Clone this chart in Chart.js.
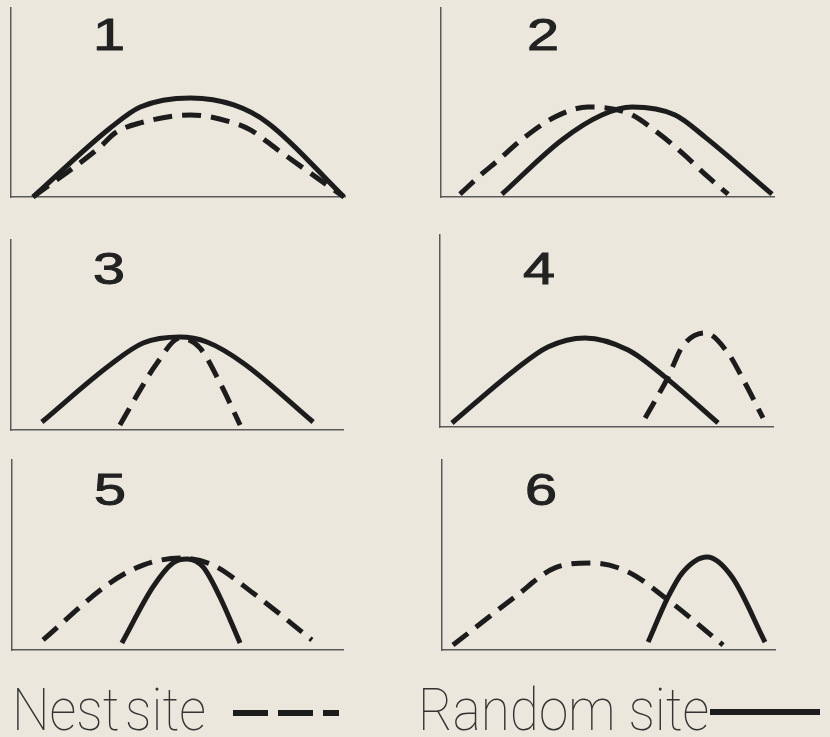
<!DOCTYPE html>
<html>
<head>
<meta charset="utf-8">
<script src="https://cdn.jsdelivr.net/npm/chart.js@4.4.1/dist/chart.umd.min.js"></script>
<style>
  body { margin: 0; background: #ebe7dd; }
  #wrap { position: relative; width: 830px; height: 737px; overflow: hidden; background: #ebe7dd; }
  .panel { position: absolute; }
  .num {
    position: absolute; width: 60px; text-align: center;
    font-family: "Liberation Sans", Arial, sans-serif; font-weight: normal;
    font-size: 45px; line-height: 45px; color: #222;
    -webkit-text-stroke: 1px #222;
    transform: scaleX(1.28);
  }
  .legend {
    position: absolute; font-family: Roboto, sans-serif; font-weight: 100;
    font-size: 59px; line-height: 59px; color: #333; white-space: nowrap;
    transform: scaleX(0.9); transform-origin: left top;
  }
  .sample { position: absolute; height: 6px; }
</style>
</head>
<body>
<div id="wrap"></div>
<script>
// x = % of the axis length, y = % of the axis height
const nest1X = [6.6, 26.7, 31.2, 38.7, 53.8, 66.7, 71.8, 79.9, 99.7];
const nest1Y = [0, 26.5, 33.9, 39.2, 43.4, 39.2, 35.4, 24.9, 0];
const random1X = [6.6, 29.7, 38.7, 53.8, 66.7, 76.9, 99.7];
const random1Y = [0, 36.5, 47.6, 52.4, 48.7, 39.2, 0];

const nest2X = [5.7, 12.6, 16.2, 25.2, 34.2, 44.1, 56.2, 65.2, 72.4, 80.2, 86.2];
const nest2Y = [1.5, 12.7, 18.0, 31.7, 42.3, 47.6, 44.4, 33.9, 23.3, 10.6, 1.5];
const random2X = [18.3, 36.3, 48.3, 57.4, 70.3, 79.3, 99.4];
const random2Y = [1.5, 30.2, 43.4, 47.6, 43.4, 31.7, 1.5];

const nest3X = [32.8, 38.9, 44.0, 50.9, 56.9, 63.0, 69.0];
const nest3Y = [2.6, 21.1, 35.3, 48.4, 43.2, 24.7, 2.6];
const random3X = [9.3, 29.8, 39.8, 50.9, 59.0, 69.9, 91.0];
const random3Y = [4.2, 34.2, 45.8, 48.9, 46.3, 35.3, 4.2];

const nest4X = [61.6, 68.5, 72.7, 79.6, 86.5, 91.6, 97.0];
const nest4Y = [4.7, 26.0, 41.7, 49.0, 38.5, 22.9, 4.7];
const random4X = [3.6, 22.5, 32.4, 43.5, 56.5, 67.6, 83.5];
const random4Y = [2.1, 29.7, 41.7, 46.4, 40.1, 26.0, 2.1];

const nest5X = [9.4, 29.6, 39.6, 50.8, 60.7, 72.8, 90.6];
const nest5Y = [5.3, 35.3, 44.7, 48.4, 44.7, 30.0, 5.3];
const random5X = [33.2, 42.6, 48.6, 52.9, 57.7, 62.8, 68.9];
const random5Y = [3.7, 33.2, 45.8, 47.9, 43.7, 27.9, 3.7];

const nest6X = [3.3, 21.9, 33.9, 45.0, 55.9, 67.9, 84.4];
const nest6Y = [2.6, 27.9, 43.2, 45.8, 41.1, 26.3, 2.6];
const random6X = [61.9, 67.9, 72.1, 79.6, 87.1, 97.0];
const random6Y = [4.2, 27.9, 40.5, 48.9, 38.4, 4.2];

const panelNumbers = ["1", "2", "3", "4", "5", "6"];
const legendLabels = ["Nest site", "Random site"];

const nestSeries = [[nest1X, nest1Y], [nest2X, nest2Y], [nest3X, nest3Y], [nest4X, nest4Y], [nest5X, nest5Y], [nest6X, nest6Y]];
const randomSeries = [[random1X, random1Y], [random2X, random2Y], [random3X, random3Y], [random4X, random4Y], [random5X, random5Y], [random6X, random6Y]];

// axis box of each panel on the page
const boxes = [
  { left: 11, top: 8, w: 334, h: 189 },
  { left: 441, top: 8, w: 333, h: 189 },
  { left: 11, top: 240, w: 332, h: 190 },
  { left: 440, top: 235, w: 333, h: 192 },
  { left: 12, top: 460, w: 331, h: 190 },
  { left: 442, top: 460, w: 333, h: 190 },
];
const numberPos = [
  { x: 79, y: 12 }, { x: 513, y: 12 },
  { x: 79, y: 246 }, { x: 509, y: 246 },
  { x: 80, y: 467 }, { x: 511, y: 467 },
];

const PAD = 8;
const wrap = document.getElementById("wrap");

function toPoints(xs, ys) {
  return xs.map((x, i) => ({ x: x, y: ys[i] }));
}

function makePanel(i) {
  const b = boxes[i];
  const canvas = document.createElement("canvas");
  canvas.className = "panel";
  canvas.width = b.w + PAD * 2;
  canvas.height = b.h + PAD * 2;
  canvas.style.left = (b.left - PAD) + "px";
  canvas.style.top = (b.top - PAD) + "px";
  canvas.style.width = canvas.width + "px";
  canvas.style.height = canvas.height + "px";
  wrap.appendChild(canvas);

  const lineStyle = {
    borderColor: "#1c1c1c",
    borderWidth: 5,
    pointRadius: 0,
    fill: false,
    clip: false,
    cubicInterpolationMode: "monotone",
  };

  new Chart(canvas.getContext("2d"), {
    type: "line",
    data: {
      datasets: [
        Object.assign({ label: legendLabels[0], data: toPoints(nestSeries[i][0], nestSeries[i][1]), borderDash: [19, 10] }, lineStyle),
        Object.assign({ label: legendLabels[1], data: toPoints(randomSeries[i][0], randomSeries[i][1]) }, lineStyle),
      ],
    },
    options: {
      responsive: false,
      animation: false,
      devicePixelRatio: 1,
      layout: { padding: PAD },
      plugins: { legend: { display: false }, tooltip: { enabled: false } },
      scales: {
        x: {
          type: "linear", min: 0, max: 100,
          grid: { display: false, drawTicks: false },
          ticks: { display: false },
          border: { display: true, color: "#5a5a5a", width: 1.5 },
        },
        y: {
          type: "linear", min: 0, max: 100,
          grid: { display: false, drawTicks: false },
          ticks: { display: false },
          border: { display: true, color: "#5a5a5a", width: 1.5 },
        },
      },
    },
  });

  const num = document.createElement("div");
  num.className = "num";
  num.textContent = panelNumbers[i];
  num.style.left = numberPos[i].x + "px";
  num.style.top = numberPos[i].y + "px";
  wrap.appendChild(num);
}

for (let i = 0; i < boxes.length; i++) makePanel(i);

// legend
const nestLabel = document.createElement("div");
nestLabel.className = "legend";
nestLabel.textContent = legendLabels[0];
nestLabel.style.left = "12px";
nestLabel.style.top = "680px";
nestLabel.style.wordSpacing = "-8px";
wrap.appendChild(nestLabel);

const nestSample = document.createElement("div");
nestSample.className = "sample";
nestSample.style.left = "233px";
nestSample.style.top = "710px";
nestSample.style.width = "106px";
nestSample.style.background = "repeating-linear-gradient(to right, #1c1c1c 0 35px, transparent 35px 45px)";
wrap.appendChild(nestSample);

const randomLabel = document.createElement("div");
randomLabel.className = "legend";
randomLabel.textContent = legendLabels[1];
randomLabel.style.left = "418px";
randomLabel.style.top = "680px";
wrap.appendChild(randomLabel);

const randomSample = document.createElement("div");
randomSample.className = "sample";
randomSample.style.left = "710px";
randomSample.style.top = "709px";
randomSample.style.width = "110px";
randomSample.style.background = "#1c1c1c";
wrap.appendChild(randomSample);
</script>
</body>
</html>
